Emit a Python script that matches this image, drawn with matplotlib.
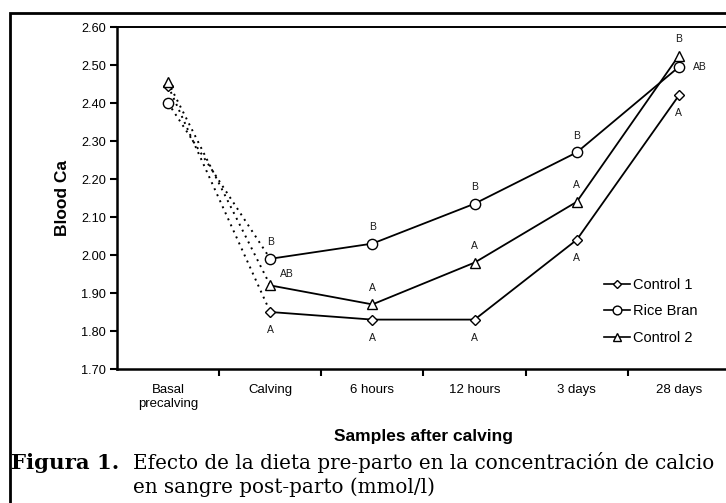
import matplotlib
matplotlib.use("Agg")
import matplotlib.pyplot as plt
from matplotlib.lines import Line2D
from matplotlib.patches import Rectangle

categories = ["Basal\nprecalving", "Calving", "6 hours", "12 hours", "3 days", "28 days"]
series_names = ["Control 1", "Rice Bran", "Control 2"]
control1 = [2.445, 1.85, 1.83, 1.83, 2.04, 2.42]
rice_bran = [2.40, 1.99, 2.03, 2.135, 2.27, 2.495]
control2 = [2.455, 1.92, 1.87, 1.98, 2.14, 2.525]
letters_c1 = ["", "A", "A", "A", "A", "A"]
letters_rb = ["", "B", "B", "B", "B", "AB"]
letters_c2 = ["", "AB", "A", "A", "A", "B"]
yticks = [1.70, 1.80, 1.90, 2.00, 2.10, 2.20, 2.30, 2.40, 2.50, 2.60]

W, H = 726, 503
fig = plt.figure(figsize=(W / 100, H / 100), dpi=100)
plt.rcParams["font.family"] = ["Liberation Sans", "DejaVu Sans"]

def fx(px):
    return px / W

def fy(py):
    return 1 - py / H

ax_l, ax_r, ax_t, ax_b = 117, 730, 27, 369
ax = fig.add_axes([fx(ax_l), fy(ax_b), fx(ax_r - ax_l), (ax_b - ax_t) / H])

x = list(range(len(categories)))
markers = ["D", "o", "^"]
msizes = [4.8, 7.4, 7.6]
data = [control1, rice_bran, control2]
letters = [letters_c1, letters_rb, letters_c2]

for vals, m, ms in zip(data, markers, msizes):
    ax.plot(x[1:], vals[1:], color="black", lw=1.3, marker=m, ms=ms,
            mfc="white", mec="black", mew=1.0, zorder=3)
    ax.plot(x[:2], vals[:2], color="black", lw=1.4, ls=(0, (1.0, 2.4)),
            zorder=2)
    ax.plot(x[:1], vals[:1], ls="none", marker=m, ms=ms, mfc="white",
            mec="black", mew=1.0, zorder=4)

# letter annotations: (series index, category index) -> placement
placement = {
    (0, 1): "below", (0, 2): "below", (0, 3): "below", (0, 4): "below", (0, 5): "below",
    (1, 1): "above", (1, 2): "above", (1, 3): "above", (1, 4): "above", (1, 5): "right",
    (2, 1): "rightbelow", (2, 2): "above", (2, 3): "above", (2, 4): "above", (2, 5): "above",
}
offsets = {"above": (0, 12), "below": (0, -13), "right": (15, 0)}
for (si, ci), pl in placement.items():
    txt = letters[si][ci]
    if not txt:
        continue
    y = data[si][ci]
    if pl == "rightbelow":
        y = data[1][ci]
        off = (12, -11)
    else:
        off = offsets[pl]
    ax.annotate(txt, (x[ci], y), xytext=off, textcoords="offset points",
                ha="center", va="center", fontsize=7.5, color="#1a1a1a")

ax.set_xlim(-0.5, 5.5)
ax.set_ylim(1.70, 2.60)
ax.set_yticks(yticks)
ax.set_yticklabels([f"{v:.2f}" for v in yticks], fontsize=9.2)
ax.set_xticks(x)
ax.set_xticklabels(categories, fontsize=9.5, linespacing=1.15)
ax.set_xticks([i + 0.5 for i in x[:-1]], minor=True)
ax.tick_params(axis="x", which="major", length=0, pad=11)
ax.tick_params(axis="x", which="minor", length=5, width=1.5, direction="out")
ax.tick_params(axis="y", length=5, width=1.5, direction="out", pad=3)
for s in ["left", "bottom"]:
    ax.spines[s].set_linewidth(1.8)
ax.spines["top"].set_linewidth(1.4)
ax.spines["right"].set_linewidth(1.4)

ax.set_ylabel("Blood Ca", fontsize=12.5, fontweight="bold", labelpad=8)
fig.text(fx(424), fy(437), "Samples after calving", fontsize=12.5,
         fontweight="bold", ha="center", va="center")

handles = [Line2D([0], [0], color="black", lw=1.2, marker=m, ms=ms * 0.85,
                  mfc="white", mec="black", mew=1.0)
           for m, ms in zip(markers, msizes)]
fig.legend(handles, series_names, loc="upper left",
           bbox_to_anchor=(fx(598), fy(272)), frameon=False, fontsize=10.5,
           handlelength=1.8, handletextpad=0.2, labelspacing=0.85,
           borderaxespad=0)

# outer frame
fig.patches.append(Rectangle((fx(10), fy(520)), fx(740), (520 - 13) / H,
                             transform=fig.transFigure, fill=False,
                             lw=2.0, ec="black"))

serif = ["DejaVu Serif"]
fig.text(fx(11), fy(469), "Figura 1.", fontsize=15.3, fontweight="bold",
         family=serif, va="baseline", ha="left")
fig.text(fx(133), fy(469), "Efecto de la dieta pre-parto en la concentración de calcio",
         fontsize=14.3, family=serif, va="baseline", ha="left")
fig.text(fx(133), fy(493), "en sangre post-parto (mmol/l)",
         fontsize=14.3, family=serif, va="baseline", ha="left")

fig.savefig("out.png", dpi=100)
